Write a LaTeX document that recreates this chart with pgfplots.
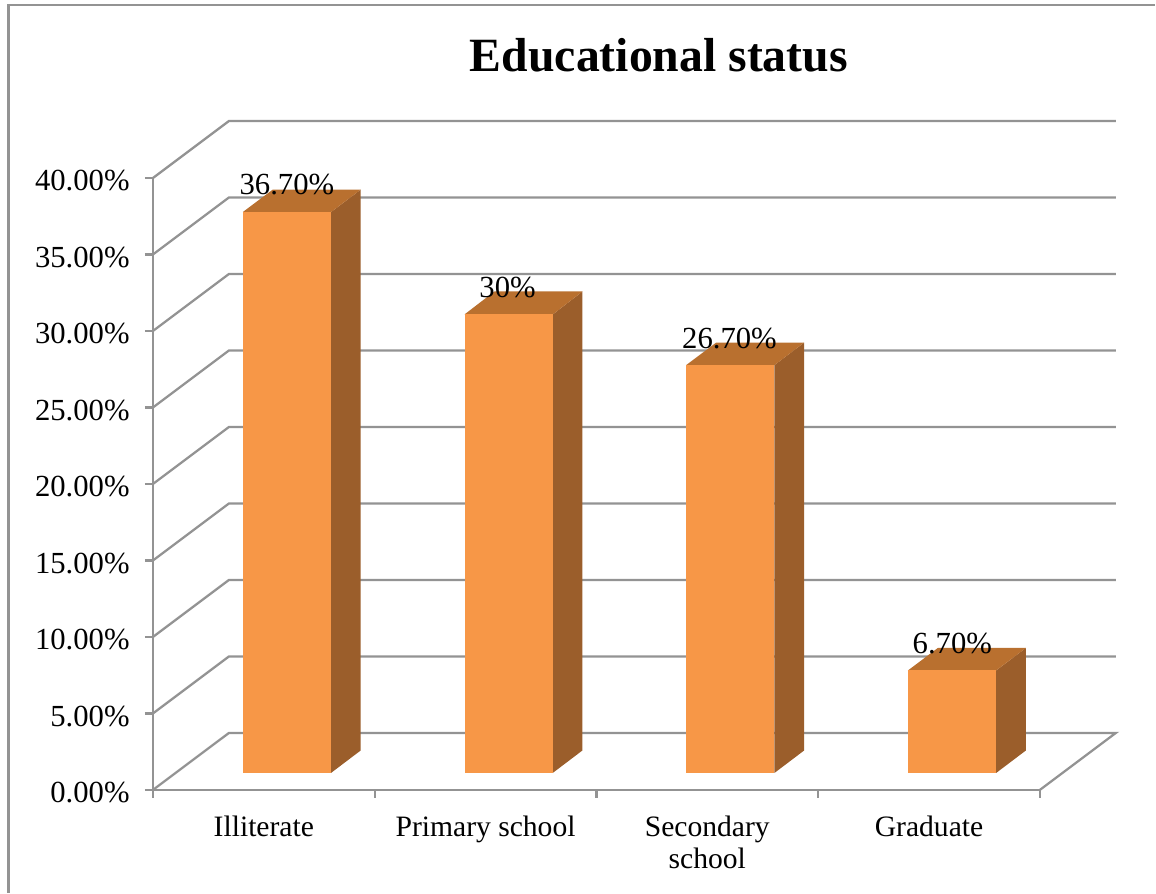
\documentclass[border=0pt]{standalone}
\usepackage{pgfplots}
\pgfplotsset{compat=1.18}
\usepackage{fontspec}
\setmainfont{Liberation Serif}
\definecolor{grid}{HTML}{939393}
\definecolor{barfront}{HTML}{F79747}
\definecolor{bartop}{HTML}{B9702F}
\definecolor{barside}{HTML}{9B5E2B}
\begin{document}
\begin{tikzpicture}
\begin{axis}[
  at={(0,0)}, anchor=origin,
  scale only axis, width=665.25pt, height=459pt,
  xmin=0, xmax=4, ymin=0, ymax=40,
  clip=false,
  axis lines=left,
  axis line style={-, draw=grid, line width=1.7pt},
  every tick/.style={draw=grid, line width=1.7pt},
  tick align=outside, major tick length=6pt,
  xtick={0,1,2,3,4},
  x tick label as interval,
  xticklabels={Illiterate,Primary school,{Secondary\\school},Graduate,{}},
  xticklabel style={align=center, font=\fontsize{22.2}{24}\selectfont, yshift=-10pt, text depth=0pt},
  ytick={0,5,10,15,20,25,30,35,40},
  yticklabels={0.00\%,5.00\%,10.00\%,15.00\%,20.00\%,25.00\%,30.00\%,35.00\%,40.00\%},
  yticklabel style={font=\fontsize{23}{24}\selectfont, xshift=-8pt, yshift=-2pt},
]
% invisible page extent
\path (axis cs:-0.68997,-6.797) rectangle (axis cs:4.5231,51.634);
% chart frame
\addplot[draw=grid, line width=1.7pt, forget plot] coordinates {(-0.6516,-6.73) (-0.6516,51.307) (4.5186,51.307)};
% walls and floor
\addplot[draw=grid, line width=1.7pt, forget plot] coordinates {(0,0) (0.3427,3.725) (4.3427,3.725) (4,0)};
\addplot[draw=grid, line width=1.7pt, forget plot] coordinates {(0,5) (0.3427,8.725) (4.3427,8.725)};
\addplot[draw=grid, line width=1.7pt, forget plot] coordinates {(0,10) (0.3427,13.725) (4.3427,13.725)};
\addplot[draw=grid, line width=1.7pt, forget plot] coordinates {(0,15) (0.3427,18.725) (4.3427,18.725)};
\addplot[draw=grid, line width=1.7pt, forget plot] coordinates {(0,20) (0.3427,23.725) (4.3427,23.725)};
\addplot[draw=grid, line width=1.7pt, forget plot] coordinates {(0,25) (0.3427,28.725) (4.3427,28.725)};
\addplot[draw=grid, line width=1.7pt, forget plot] coordinates {(0,30) (0.3427,33.725) (4.3427,33.725)};
\addplot[draw=grid, line width=1.7pt, forget plot] coordinates {(0,35) (0.3427,38.725) (4.3427,38.725)};
\addplot[draw=grid, line width=1.7pt, forget plot] coordinates {(0,40) (0.3427,43.725) (4.3427,43.725)};
% Illiterate 36.7
\addplot[fill=barside, draw=none, forget plot] coordinates {(0.803,1.11) (0.937,2.58) (0.937,39.24) (0.803,37.77)} --cycle;
\addplot[fill=bartop, draw=none, forget plot] coordinates {(0.405,37.77) (0.803,37.77) (0.937,39.24) (0.54,39.24)} --cycle;
\addplot[fill=barfront, draw=none, forget plot] coordinates {(0.405,1.11) (0.803,1.11) (0.803,37.77) (0.405,37.77)} --cycle;
% Primary school 30
\addplot[fill=barside, draw=none, forget plot] coordinates {(1.803,1.11) (1.937,2.58) (1.937,32.58) (1.803,31.08)} --cycle;
\addplot[fill=bartop, draw=none, forget plot] coordinates {(1.405,31.08) (1.803,31.08) (1.937,32.58) (1.54,32.58)} --cycle;
\addplot[fill=barfront, draw=none, forget plot] coordinates {(1.405,1.11) (1.803,1.11) (1.803,31.08) (1.405,31.08)} --cycle;
% Secondary school 26.7
\addplot[fill=barside, draw=none, forget plot] coordinates {(2.803,1.11) (2.937,2.58) (2.937,29.24) (2.803,27.77)} --cycle;
\addplot[fill=bartop, draw=none, forget plot] coordinates {(2.405,27.77) (2.803,27.77) (2.937,29.24) (2.54,29.24)} --cycle;
\addplot[fill=barfront, draw=none, forget plot] coordinates {(2.405,1.11) (2.803,1.11) (2.803,27.77) (2.405,27.77)} --cycle;
% Graduate 6.7
\addplot[fill=barside, draw=none, forget plot] coordinates {(3.803,1.11) (3.937,2.58) (3.937,9.28) (3.803,7.81)} --cycle;
\addplot[fill=bartop, draw=none, forget plot] coordinates {(3.405,7.81) (3.803,7.81) (3.937,9.28) (3.54,9.28)} --cycle;
\addplot[fill=barfront, draw=none, forget plot] coordinates {(3.405,1.11) (3.803,1.11) (3.803,7.81) (3.405,7.81)} --cycle;
% data labels and title
\node[font=\fontsize{23}{24}\selectfont] at (axis cs:0.6040,39.60) {36.70\%};
\node[font=\fontsize{23}{24}\selectfont] at (axis cs:1.599,32.84) {30\%};
\node[font=\fontsize{23}{24}\selectfont] at (axis cs:2.600,29.50) {26.70\%};
\node[font=\fontsize{23}{24}\selectfont] at (axis cs:3.605,9.57) {6.70\%};
\node[font=\fontsize{35.8}{40}\selectfont\bfseries] at (axis cs:2.2819,48.04) {Educational status};
\end{axis}
\end{tikzpicture}
\end{document}
